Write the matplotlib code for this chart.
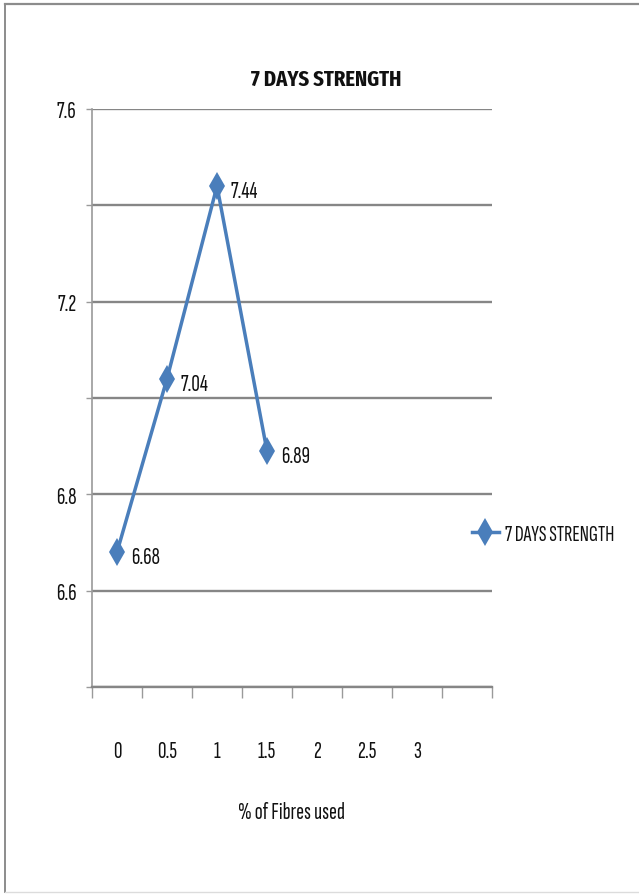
import numpy as np
import matplotlib
matplotlib.use("Agg")
import matplotlib.pyplot as plt
from matplotlib.lines import Line2D

# fibre dosage (%) on the category axis; last slot is left blank
fibre_pct = ["0", "0.5", "1", "1.5", "2", "2.5", "3", ""]
strength_7d = [6.68, 7.04, 7.44, 6.89]
y_ticks = [6.4, 6.6, 6.8, 7.0, 7.2, 7.4, 7.6]
y_ticklabels = ["", "6.6", "6.8", "", "7.2", "", "7.6"]

BLUE = "#4a7ebb"
GRID = "#868686"
AXIS = "#9a9a9a"
INKC = "#111111"
FONT = ["Sofia Sans Extra Condensed", "DejaVu Sans"]
TITLE_FONT = ["Fira Sans Extra Condensed", "DejaVu Sans"]

plt.rcParams["font.family"] = FONT

W, H = 639, 895
fig = plt.figure(figsize=(W / 100, H / 100), dpi=100)
fig.patch.set_facecolor("white")

# chart-area frame (runs off the right edge)
fig.add_artist(Line2D([5 / W, 1], [1 - 5 / H, 1 - 5 / H], transform=fig.transFigure,
                      color="#8c8c8c", lw=1.6))
fig.add_artist(Line2D([5 / W, 5 / W], [1 - 5 / H, 1 - 893 / H], transform=fig.transFigure,
                      color="#8c8c8c", lw=1.4))
fig.add_artist(Line2D([5 / W, 1], [1 - 893 / H, 1 - 893 / H], transform=fig.transFigure,
                      color="#dcdcdc", lw=1.0))

ax = fig.add_axes([92 / W, 1 - 688 / H, 400 / W, 578 / H])

x = np.arange(len(strength_7d)) + 0.5
ax.plot(x, strength_7d, color=BLUE, lw=2.5, marker="d", ms=14, mew=0,
        mfc=BLUE, label="7 DAYS STRENGTH", zorder=4)
for xi, v in zip(x, strength_7d):
    ax.annotate("%.2f" % v, (xi, v), xytext=(10, -3.5), textcoords="offset points",
                ha="left", va="center", fontsize=17, color=INKC)

ax.set_xlim(0, len(fibre_pct))
ax.set_ylim(y_ticks[0], y_ticks[-1])

# y axis: gridlines every 0.2, labels only where shown
ax.set_yticks(y_ticks)
ax.set_yticklabels(y_ticklabels)
ax.yaxis.grid(True, color=GRID, lw=1.7)
ax.set_axisbelow(True)
ax.tick_params(axis="y", direction="out", length=4, width=1, color=AXIS,
               labelsize=17, pad=7, labelcolor=INKC)

# x axis: tick marks between categories, labels centred in each slot
ax.set_xticks(np.arange(len(fibre_pct) + 1))
ax.set_xticklabels([])
ax.set_xticks(np.arange(len(fibre_pct)) + 0.5, minor=True)
ax.set_xticklabels(fibre_pct, minor=True)
ax.tick_params(axis="x", which="major", direction="out", length=8, width=1, color=AXIS)
ax.tick_params(axis="x", which="minor", length=0, labelsize=17, pad=38,
               labelcolor=INKC)

for side in ("top", "right"):
    ax.spines[side].set_visible(False)
ax.spines["left"].set_color(AXIS)
ax.spines["left"].set_linewidth(1.2)
ax.spines["bottom"].set_color(GRID)
ax.spines["bottom"].set_linewidth(1.7)

ax.set_xlabel("% of Fibres used", fontsize=17, color=INKC)
ax.xaxis.set_label_coords(0.5, -(813 - 688) / 578)
ax.xaxis.label.set_va("center")

fig.text(326 / W, 1 - 80 / H, "7 DAYS STRENGTH", ha="center", va="center",
         fontsize=16, fontweight="bold", family=TITLE_FONT, color=INKC)

ax.legend(loc="center left", bbox_to_anchor=(472 / W, 1 - 535 / H),
          bbox_transform=fig.transFigure, frameon=False, fontsize=16,
          handlelength=1.2, handletextpad=0.3, borderpad=0, borderaxespad=0,
          labelcolor=INKC)

fig.savefig("out.png", dpi=100, facecolor="white")
